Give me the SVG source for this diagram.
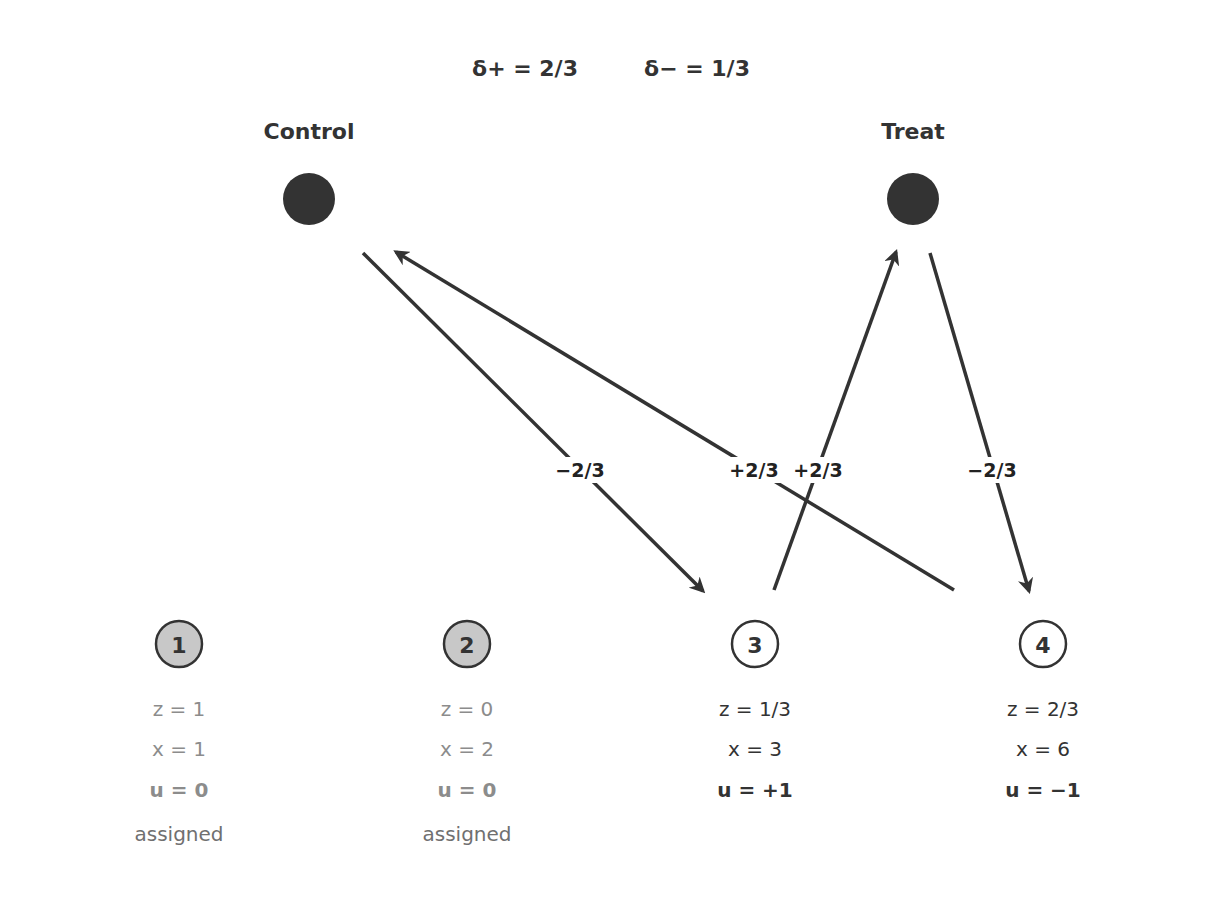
<svg xmlns="http://www.w3.org/2000/svg" width="1228" height="902" viewBox="0 0 1228 902">
<style>
text{font-family:"DejaVu Sans",sans-serif;text-anchor:middle;dominant-baseline:central}
.b{font-weight:bold;fill:#333}
.t{font-size:22px}
.v{font-size:20px}
.g{fill:#8c8c8c}
.d{fill:#333}
.lbl{font-size:19px;font-weight:bold;fill:#222}
.e{stroke:#333;stroke-width:3.5;fill:none;marker-end:url(#ah)}
.u{stroke:#333;stroke-width:2.5}
</style>
<defs>
<marker id="ah" viewBox="0 0 10 10" refX="8" refY="5" markerWidth="4.5" markerHeight="4.5" orient="auto" markerUnits="strokeWidth">
<path d="M0,0 L10,5 L0,10 L3,5 Z" fill="#333"/>
</marker>
</defs>
<rect width="1228" height="902" fill="#fff"/>
<text class="b t" x="525" y="68">δ+ = 2/3</text>
<text class="b t" x="697" y="68">δ− = 1/3</text>
<g id="control"><text class="b t" x="309" y="131">Control</text><circle cx="309" cy="199" r="26" fill="#333"/></g>
<g id="treat"><text class="b t" x="913" y="131">Treat</text><circle cx="913" cy="199" r="26" fill="#333"/></g>
<g id="connectors">
<line class="e" x1="363" y1="253" x2="703" y2="591"/>
<line class="e" x1="954" y1="590" x2="396" y2="252"/>
<line class="e" x1="774" y1="590" x2="896" y2="252"/>
<line class="e" x1="930" y1="253" x2="1029" y2="591"/>
<rect x="548" y="457" width="64" height="26" fill="#fff"/>
<rect x="722" y="457" width="64" height="26" fill="#fff"/>
<rect x="786" y="457" width="64" height="26" fill="#fff"/>
<rect x="960" y="457" width="64" height="26" fill="#fff"/>
<text class="lbl" x="580" y="470">−2/3</text>
<text class="lbl" x="754" y="470">+2/3</text>
<text class="lbl" x="818" y="470">+2/3</text>
<text class="lbl" x="992" y="470">−2/3</text>
</g>
<g id="unit1"><circle class="u" cx="179" cy="644" r="23" fill="#c8c8c8"/><text class="b t" x="179" y="645">1</text>
<text class="v g" x="179" y="709">z = 1</text><text class="v g" x="179" y="749">x = 1</text><text class="v g" x="179" y="790" font-weight="bold">u = 0</text><text class="v" fill="#707070" x="179" y="834">assigned</text></g>
<g id="unit2"><circle class="u" cx="467" cy="644" r="23" fill="#c8c8c8"/><text class="b t" x="467" y="645">2</text>
<text class="v g" x="467" y="709">z = 0</text><text class="v g" x="467" y="749">x = 2</text><text class="v g" x="467" y="790" font-weight="bold">u = 0</text><text class="v" fill="#707070" x="467" y="834">assigned</text></g>
<g id="unit3"><circle class="u" cx="755" cy="644" r="23" fill="#fff"/><text class="b t" x="755" y="645">3</text>
<text class="v d" x="755" y="709">z = 1/3</text><text class="v d" x="755" y="749">x = 3</text><text class="v d" x="755" y="790" font-weight="bold">u = +1</text></g>
<g id="unit4"><circle class="u" cx="1043" cy="644" r="23" fill="#fff"/><text class="b t" x="1043" y="645">4</text>
<text class="v d" x="1043" y="709">z = 2/3</text><text class="v d" x="1043" y="749">x = 6</text><text class="v d" x="1043" y="790" font-weight="bold">u = −1</text></g>
</svg>
